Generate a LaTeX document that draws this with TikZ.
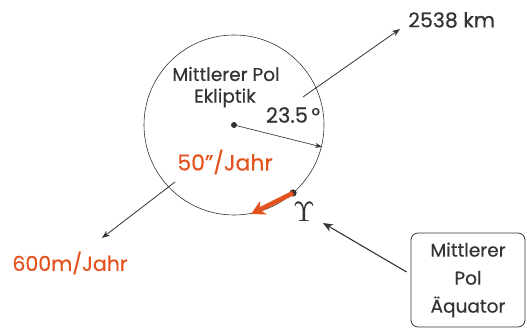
\documentclass[tikz,border=0pt]{standalone}
\usepackage[no-math]{fontspec}
\setmainfont{Poppins}[FakeBold=0.4]
\usetikzlibrary{arrows.meta}
\definecolor{ink}{HTML}{333333}
\definecolor{rust}{HTML}{E4531F}
\begin{document}
\begin{tikzpicture}[x=1pt,y=-1pt,
  lbl/.style={inner sep=0pt,text=ink,font=\fontsize{18.5}{22}\selectfont},
  rlbl/.style={lbl,text=rust,font=\fontsize{20.5}{24}\selectfont},
  conn/.style={draw=ink,line width=0.8pt,-{Stealth[length=8pt,width=6pt]}},
  polebox/.style={draw=ink,line width=0.8pt,rounded corners=7pt,minimum width=114pt,minimum height=94pt,align=center,text=ink,font=\fontsize{18.5}{28}\selectfont}]
\useasboundingbox (0,0) rectangle (527,328);
% ecliptic pole circle
\node[circle,draw=ink,line width=0.6pt,minimum size=180pt,inner sep=0pt] (circ) at (234,125) {};
\fill[ink] (234,125) circle (3pt) coordinate (c);
\node[lbl] (mp) at (226,74) {Mittlerer Pol};
\node[lbl] (ek) at (225,98) {Ekliptik};
\node[lbl,font=\fontsize{21}{24}\selectfont] (ang) at (293,115) {23.5\,°};
\node[rlbl,font=\fontsize{22}{24}\selectfont] (rate) at (225,162) {50”/Jahr};
% radius arrow
\coordinate (rim) at (322,147);
\draw[conn,line width=0.7pt,-{Stealth[length=7pt,width=5pt]}] (c) -- (rim);
% outward directions
\coordinate (s1) at (303,97);
\node[lbl,anchor=west,font=\fontsize{20.5}{24}\selectfont] (km) at (408,20) {2538 km};
\draw[conn] (s1) -- (400,29) coordinate (t1);
\coordinate (s2) at (175,182);
\node[rlbl] (mj) at (70,263) {600m/Jahr};
\draw[conn] (s2) -- (102,238) coordinate (t2);
% equinox point and its motion
\fill[ink] (293,193) circle (3.6pt) coordinate (eq);
\draw[rust,line width=4.5pt,-{Stealth[length=14pt,width=15pt]}] (eq) -- (251,214);
\node[inner sep=0pt,text=ink,scale=2.8] (ups) at (304,212) {$\Upsilon$};
% equator pole box
\node[polebox] (box) at (468,280) {Mittlerer\\Pol\\Äquator};
\draw[conn,line width=1.1pt,-{Stealth[length=10pt,width=8pt]}] (box.west |- 0,272) ++(-4,0) coordinate (s3) -- (323,223);
\end{tikzpicture}
\end{document}
